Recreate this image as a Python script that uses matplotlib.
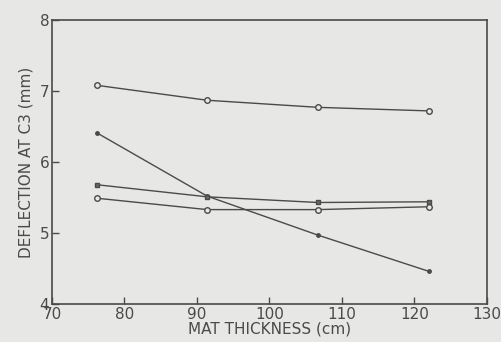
import numpy as np
import matplotlib.pyplot as plt

# mat thickness (cm) and deflection at C3 (mm)
thickness = [76.2, 91.4, 106.7, 122.0]
defl_top = [7.08, 6.87, 6.77, 6.72]
defl_steep = [6.41, 5.52, 4.97, 4.46]
defl_mid = [5.68, 5.51, 5.43, 5.44]
defl_low = [5.49, 5.33, 5.33, 5.37]

xticks = [70, 80, 90, 100, 110, 120, 130]
yticks = [4, 5, 6, 7, 8]

bg = '#e7e7e5'
ink = '#4a4a4a'

plt.rcParams['font.family'] = ['DejaVu Sans']

fig = plt.figure(figsize=(5.02, 3.42), dpi=100, facecolor=bg)
ax = fig.add_axes([0.1036, 0.111, 0.8664, 0.8305], facecolor=bg)

ax.plot(thickness, defl_top, '-o', color=ink, lw=1.0, ms=4, mfc=bg, mec=ink, mew=1.0)
ax.plot(thickness, defl_steep, '-o', color=ink, lw=1.0, ms=2.5, mfc=ink, mec=ink)
ax.plot(thickness, defl_mid, '-s', color=ink, lw=1.0, ms=3.5, mfc='#6a6a6a', mec=ink, mew=1.0)
ax.plot(thickness, defl_low, '-o', color=ink, lw=1.0, ms=4, mfc=bg, mec=ink, mew=1.0)

ax.set_xlim(70, 130)
ax.set_ylim(4, 8)
ax.set_xticks(xticks)
ax.set_yticks(yticks)
ax.tick_params(direction='in', length=5, width=1, colors=ink, labelsize=11, pad=2)
for s in ax.spines.values():
    s.set_color(ink)
    s.set_linewidth(1.2)

ax.set_xlabel('MAT THICKNESS (cm)', fontsize=11, color=ink, labelpad=0)
ax.set_ylabel('DEFLECTION AT C3 (mm)', fontsize=11, color=ink, labelpad=4)

fig.savefig('out.png', dpi=100, facecolor=bg)
